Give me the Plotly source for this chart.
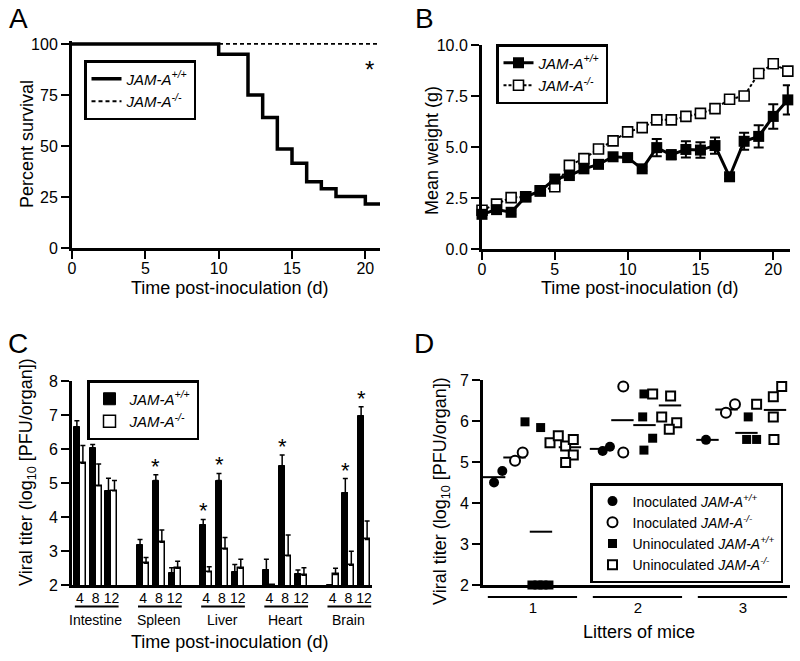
import plotly.graph_objects as go

FONT = "Liberation Sans, Arial, sans-serif"
W, H = 800, 661

# ---------------- Panel A: survival ----------------
days_A_wt = [0, 10, 12, 13, 14, 15, 16, 17, 18, 20, 21]
surv_wt = [100, 95, 75, 64, 48.5, 41.5, 32.5, 29, 25.2, 21.6, 21.6]
days_A_ko = [0, 21]
surv_ko = [100, 100]

# ---------------- Panel B: weight ----------------
days_B = list(range(22))
wt_weight = [1.7, 1.93, 1.8, 2.56, 2.85, 3.43, 3.6, 3.93, 4.15, 4.52, 4.48, 3.93,
             4.97, 4.62, 4.88, 4.85, 5.07, 3.54, 5.28, 5.52, 6.5, 7.31]
wt_weight_err = [0.1, 0.1, 0.1, 0.1, 0.1, 0.1, 0.1, 0.1, 0.1, 0.1, 0.1, 0.1,
                 0.42, 0.22, 0.4, 0.38, 0.4, 0.1, 0.42, 0.55, 0.6, 0.72]
ko_weight = [1.9, 2.2, 2.52, 2.56, 2.85, 3.05, 4.1, 4.43, 4.9, 5.3, 5.74, 5.95,
             6.33, 6.33, 6.5, 6.65, 6.88, 7.34, 7.5, 8.6, 9.08, 8.72]

# ---------------- Panel C: viral titer by organ ----------------
organs = ["Intestine", "Spleen", "Liver", "Heart", "Brain"]
time_points = ["4", "8", "12"]
wt_titer = [6.64, 6.02, 4.77, 3.17, 5.07, 2.34, 3.76, 5.07, 2.37, 2.44, 5.50, 2.31, 2.0, 4.71, 6.97]
wt_titer_top = [6.83, 6.13, 5.14, 3.34, 5.24, 2.51, 3.93, 5.28, 2.60, 2.76, 5.82, 2.44, 2.0, 5.13, 7.24]
ko_titer = [5.58, 4.92, 4.77, 2.64, 3.26, 2.49, 2.39, 3.06, 2.49, 2.0, 2.86, 2.29, 2.31, 2.58, 3.34]
ko_titer_top = [6.10, 5.56, 5.07, 2.81, 3.62, 2.70, 2.54, 3.40, 2.76, 2.0, 3.47, 2.51, 2.49, 2.99, 3.88]
signif = [False, False, False, False, True, False, True, True, False, False, True, False, False, True, True]

# ---------------- Panel D: litters ----------------
litters = ["1", "2", "3"]
inoc_wt_x = [0.629, 0.708, 1.664, 1.733, 2.648]
inoc_wt_y = [4.50, 4.78, 5.27, 5.37, 5.54]
inoc_ko_x = [0.829, 0.902, 1.860, 1.860, 2.838, 2.924]
inoc_ko_y = [5.03, 5.23, 6.84, 5.23, 6.20, 6.41]
unin_wt_x = [0.924, 1.073, 0.99, 1.048, 1.095, 1.152, 2.057, 2.045, 2.14, 2.057, 3.05, 3.035, 3.13]
unin_wt_y = [5.98, 5.84, 2, 2, 2, 2, 6.66, 6.10, 5.58, 5.29, 6.10, 5.55, 5.55]
unin_ko_x = [1.162, 1.241, 1.311, 1.384, 1.384, 1.311, 2.14, 2.311, 2.226, 2.369, 2.298,
             3.13, 3.289, 3.369, 3.289, 3.295]
unin_ko_y = [5.47, 5.64, 5.39, 5.55, 5.17, 4.99, 6.66, 6.61, 6.10, 5.96, 5.80,
             6.41, 6.59, 6.84, 6.10, 5.55]
mean_inoc_wt_x = [0.63, 1.648, 2.662]
mean_inoc_wt_y = [4.63, 5.32, 5.54]
mean_inoc_ko_x = [0.824, 1.852, 2.843]
mean_inoc_ko_y = [5.11, 6.02, 6.28]
mean_unin_wt_x = [1.076, 2.062, 3.033]
mean_unin_wt_y = [3.30, 5.90, 5.71]
mean_unin_ko_x = [1.352, 2.305, 3.305]
mean_unin_ko_y = [5.36, 6.38, 6.27]


def px(xp):
    return xp / W


def py(yp):
    return 1 - yp / H


WT_NAME = "<i>JAM-A<sup>+/+</sup></i>"
KO_NAME = "<i>JAM-A<sup>-/-</sup></i>"

fig = go.Figure()

# ---- A ----
fig.add_trace(go.Scatter(x=days_A_wt, y=surv_wt, mode="lines", line_shape="hv",
                         line=dict(color="black", width=3.5), name=WT_NAME,
                         xaxis="x", yaxis="y", legend="legend", cliponaxis=False))
fig.add_trace(go.Scatter(x=days_A_ko, y=surv_ko, mode="lines",
                         line=dict(color="black", width=1.8, dash="4px,3px"), name=KO_NAME,
                         xaxis="x", yaxis="y", legend="legend", cliponaxis=False))

# ---- B ----
fig.add_trace(go.Scatter(x=days_B, y=ko_weight, mode="lines+markers",
                         line=dict(color="black", width=2, dash="3px,2px"),
                         marker=dict(symbol="square", size=10, color="white",
                                     line=dict(color="black", width=1.6)),
                         name=KO_NAME, xaxis="x2", yaxis="y2", legend="legend2",
                         legendrank=2, cliponaxis=False))
fig.add_trace(go.Scatter(x=days_B, y=wt_weight, mode="lines+markers",
                         line=dict(color="black", width=3),
                         marker=dict(symbol="square", size=11, color="black",
                                     line=dict(color="black", width=0)),
                         error_y=dict(type="data", array=wt_weight_err, color="black",
                                      thickness=2, width=5),
                         name=WT_NAME, xaxis="x2", yaxis="y2", legend="legend2",
                         legendrank=1, cliponaxis=False))

# ---- C ----
n_t = len(time_points)
pos = [g * 4 + d for g in range(len(organs)) for d in range(n_t)]
off = 0.19
bw = 0.38
fig.add_trace(go.Bar(x=[p - off for p in pos], y=wt_titer, width=bw,
                     marker=dict(color="black", line=dict(color="black", width=1)),
                     error_y=dict(type="data", symmetric=False,
                                  array=[t - v for t, v in zip(wt_titer_top, wt_titer)],
                                  arrayminus=[0] * len(wt_titer),
                                  color="black", thickness=1.5, width=2.5),
                     name=WT_NAME, xaxis="x3", yaxis="y3", legend="legend3"))
fig.add_trace(go.Bar(x=[p + off for p in pos], y=ko_titer, width=bw,
                     marker=dict(color="white", line=dict(color="black", width=1.5)),
                     error_y=dict(type="data", symmetric=False,
                                  array=[t - v for t, v in zip(ko_titer_top, ko_titer)],
                                  arrayminus=[0] * len(ko_titer),
                                  color="black", thickness=1.5, width=2.5),
                     name=KO_NAME, xaxis="x3", yaxis="y3", legend="legend3"))

# ---- D ----
for mx, my in [(mean_inoc_wt_x, mean_inoc_wt_y), (mean_inoc_ko_x, mean_inoc_ko_y),
               (mean_unin_wt_x, mean_unin_wt_y), (mean_unin_ko_x, mean_unin_ko_y)]:
    fig.add_trace(go.Scatter(x=mx, y=my, mode="markers",
                             marker=dict(symbol="line-ew", size=16,
                                         line=dict(color="black", width=2)),
                             showlegend=False, xaxis="x4", yaxis="y4", cliponaxis=False))

fig.add_trace(go.Scatter(x=inoc_wt_x, y=inoc_wt_y, mode="markers",
                         marker=dict(symbol="circle", size=10, color="black",
                                     line=dict(width=0)),
                         name="Inoculated " + WT_NAME, xaxis="x4", yaxis="y4",
                         legend="legend4", cliponaxis=False))
fig.add_trace(go.Scatter(x=inoc_ko_x, y=inoc_ko_y, mode="markers",
                         marker=dict(symbol="circle", size=10, color="white",
                                     line=dict(color="black", width=2)),
                         name="Inoculated " + KO_NAME, xaxis="x4", yaxis="y4",
                         legend="legend4", cliponaxis=False))
fig.add_trace(go.Scatter(x=unin_wt_x, y=unin_wt_y, mode="markers",
                         marker=dict(symbol="square", size=9, color="black",
                                     line=dict(width=0)),
                         name="Uninoculated " + WT_NAME, xaxis="x4", yaxis="y4",
                         legend="legend4", cliponaxis=False))
fig.add_trace(go.Scatter(x=unin_ko_x, y=unin_ko_y, mode="markers",
                         marker=dict(symbol="square", size=9, color="white",
                                     line=dict(color="black", width=2)),
                         name="Uninoculated " + KO_NAME, xaxis="x4", yaxis="y4",
                         legend="legend4", cliponaxis=False))

# ---------------- axes ----------------
base_ax = dict(showline=True, linewidth=3, linecolor="black", showgrid=False,
               zeroline=False, ticks="outside", ticklen=8, tickwidth=2,
               tickcolor="black", tickfont=dict(size=16, color="black", family=FONT),
               automargin=False, fixedrange=True)

fig.update_layout(
    xaxis=dict(base_ax, domain=[px(72), px(380)], range=[0, 21], anchor="y",
               tickvals=[0, 5, 10, 15, 20], ticklabelstandoff=-4),
    yaxis=dict(base_ax, domain=[py(248), py(40.9)], range=[0, 101.5], anchor="x",
               tickvals=[0, 25, 50, 75, 100]),
    xaxis2=dict(base_ax, domain=[px(482), px(790)], range=[0, 21.15], anchor="y2",
                tickvals=[0, 5, 10, 15, 20], ticklabelstandoff=-4),
    yaxis2=dict(base_ax, domain=[py(249), py(45)], range=[0, 10], anchor="x2",
                tickvals=[0, 2.5, 5, 7.5, 10], tickformat=".1f"),
    xaxis3=dict(base_ax, domain=[px(72), px(372)], range=[-0.5, 18.5], anchor="y3",
                tickvals=pos, ticktext=time_points * len(organs), ticks="",
                ticklabelstandoff=-2,
                tickfont=dict(size=14, color="black", family=FONT)),
    yaxis3=dict(base_ax, domain=[py(585), py(381)], range=[2, 8], anchor="x3",
                tickvals=[2, 3, 4, 5, 6, 7, 8]),
    xaxis4=dict(base_ax, domain=[px(483), px(790)], range=[0.524, 3.448], anchor="y4",
                tickvals=[1, 2, 3], ticktext=litters, ticks="", ticklabelstandoff=7,
                tickfont=dict(size=15, color="black", family=FONT)),
    yaxis4=dict(base_ax, domain=[py(585), py(380)], range=[2, 7], anchor="x4",
                tickvals=[2, 3, 4, 5, 6, 7]),
)

leg_base = dict(bordercolor="black", borderwidth=2.5, bgcolor="white",
                font=dict(size=15, color="black", family=FONT),
                xanchor="left", yanchor="top", tracegroupgap=0)
fig.update_layout(
    legend=dict(leg_base, x=px(84), y=py(60)),
    legend2=dict(leg_base, x=px(496), y=py(44)),
    legend3=dict(leg_base, x=px(87), y=py(380)),
    legend4=dict(leg_base, x=px(590), y=py(483), font=dict(size=14, color="black", family=FONT)),
)

# ---------------- annotations ----------------
ann = []


def txt(x, y, s, size, **kw):
    d = dict(x=x, y=y, text=s, showarrow=False, xref="paper", yref="paper",
             xanchor="center", yanchor="middle",
             font=dict(size=size, color="black", family=FONT))
    d.update(kw)
    ann.append(d)


# Panel letters
txt(px(18), py(18), "A", 28)
txt(px(424), py(18), "B", 28)
txt(px(18), py(343), "C", 28)
txt(px(424), py(343), "D", 28)

# axis titles
txt(px(229), py(288), "Time post-inoculation (d)", 18)
txt(px(639), py(288), "Time post-inoculation (d)", 18)
txt(px(229), py(642), "Time post-inoculation (d)", 18)
txt(px(639), py(632), "Litters of mice", 18)
txt(px(27), py(144), "Percent survival", 18, textangle=-90)
txt(px(432), py(151), "Mean weight (g)", 18, textangle=-90)
txt(px(27), py(472), "Viral titer (log<sub>10</sub> [PFU/organ])", 18, textangle=-90)
txt(px(441), py(491), "Viral titer (log<sub>10</sub> [PFU/organ])", 18, textangle=-90)

# asterisk in A
ann.append(dict(x=20.3, y=87.5, xref="x", yref="y", text="*", showarrow=False,
                xanchor="center", yanchor="middle",
                font=dict(size=24, color="black", family=FONT)))

# asterisks in C
for p, top, s in zip(pos, wt_titer_top, signif):
    if s:
        ann.append(dict(x=p - off, y=top, xref="x3", yref="y3", text="*", showarrow=False,
                        xanchor="center", yanchor="bottom", yshift=-6,
                        font=dict(size=22, color="black", family=FONT)))

# organ labels in C
for g, organ in enumerate(organs):
    ann.append(dict(x=g * 4 + 1, y=py(620), xref="x3", yref="paper", text=organ,
                    xanchor="center", yanchor="middle",
                    showarrow=False, font=dict(size=14, color="black", family=FONT)))

fig.update_layout(annotations=ann)

# underlines
shapes = []
for g in range(len(organs)):
    shapes.append(dict(type="line", xref="x3", yref="paper", x0=g * 4 - 0.32,
                       x1=g * 4 + 2.45, y0=py(606.5), y1=py(606.5),
                       line=dict(color="black", width=2)))
for i in range(len(litters)):
    shapes.append(dict(type="line", xref="x4", yref="paper", x0=i + 1 - 0.43,
                       x1=i + 1 + 0.42, y0=py(597), y1=py(597),
                       line=dict(color="black", width=2)))
fig.update_layout(shapes=shapes)

fig.update_layout(width=W, height=H, margin=dict(l=0, r=0, t=0, b=0),
                  paper_bgcolor="white", plot_bgcolor="white",
                  font=dict(family=FONT, color="black"),
                  barmode="overlay", bargap=0)

fig.write_html("out.html", config={"displayModeBar": False},
               post_script="document.body.style.margin='0';document.body.style.overflow='hidden';")
